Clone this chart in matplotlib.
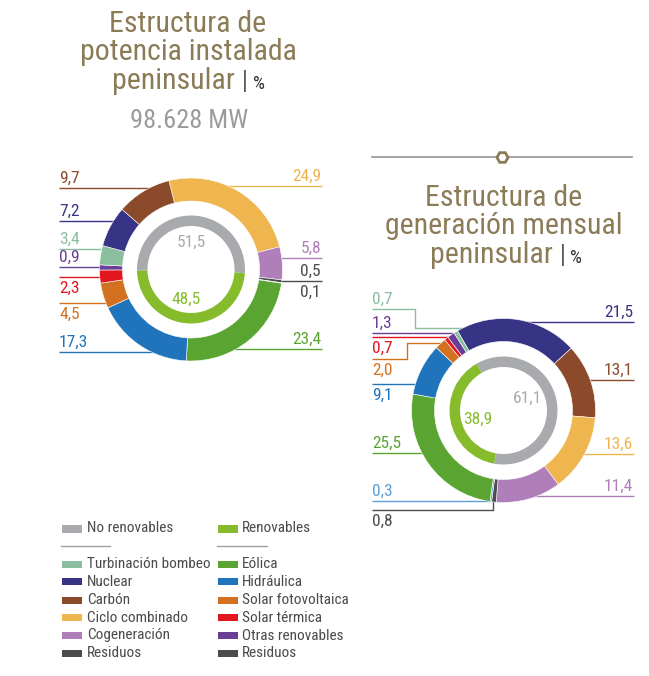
import matplotlib
matplotlib.use('Agg')
import matplotlib.pyplot as plt
from matplotlib import font_manager as fm
from matplotlib.patches import Rectangle
import numpy as np

# ---------------- DATA ----------------
potencia_labels = ['Ciclo combinado', 'Cogeneración', 'Residuos', 'Residuos renovables',
                   'Eólica', 'Hidráulica', 'Solar fotovoltaica', 'Solar térmica',
                   'Otras renovables', 'Turbinación bombeo', 'Nuclear', 'Carbón']
potencia_values = [24.9, 5.8, 0.5, 0.1, 23.4, 17.3, 4.5, 2.3, 0.9, 3.4, 7.2, 9.7]
potencia_split = [51.5, 48.5]          # No renovables, Renovables

generacion_labels = ['Nuclear', 'Carbón', 'Ciclo combinado', 'Cogeneración', 'Residuos',
                     'Residuos renovables', 'Eólica', 'Hidráulica', 'Solar fotovoltaica',
                     'Solar térmica', 'Otras renovables', 'Turbinación bombeo']
generacion_values = [21.5, 13.1, 13.6, 11.4, 0.8, 0.3, 25.5, 9.1, 2.0, 0.7, 1.3, 0.7]
generacion_split = [61.1, 38.9]        # No renovables, Renovables

legend_header = ['No renovables', 'Renovables']
legend_left = ['Turbinación bombeo', 'Nuclear', 'Carbón', 'Ciclo combinado', 'Cogeneración', 'Residuos']
legend_right = ['Eólica', 'Hidráulica', 'Solar fotovoltaica', 'Solar térmica', 'Otras renovables', 'Residuos']

title1 = ['Estructura de', 'potencia instalada', 'peninsular']
title2 = ['Estructura de', 'generación mensual', 'peninsular']
subtitle1 = '98.628 MW'

# ---------------- STYLE ----------------
COL = {
    'Ciclo combinado': '#EFB54F', 'Cogeneración': '#B07FBA', 'Residuos': '#4B4C4E',
    'Residuos renovables': '#4B4C4E', 'Eólica': '#5AA532', 'Hidráulica': '#1F74BC',
    'Solar fotovoltaica': '#D2711F', 'Solar térmica': '#E1161E', 'Otras renovables': '#6A3E97',
    'Turbinación bombeo': '#8BBE9F', 'Nuclear': '#373385', 'Carbón': '#8B4A2A',
}
C_NOREN = '#A9AAAD'
C_REN = '#86BC2B'
GOLD = '#8B7B57'

names = {f.name for f in fm.fontManager.ttflist}
def pick(cands):
    for c in cands:
        if c in names:
            return c
    return None
COND = pick(['Roboto Condensed', 'Liberation Sans Narrow', 'Open Sans Condensed'])
STRETCH = 'normal'
if COND is None:
    COND = 'DejaVu Sans'
    STRETCH = 'condensed'

def ftxt(**kw):
    d = dict(family=COND, fontstretch=STRETCH)
    d.update(kw)
    return d

W, H = 649, 676
fig = plt.figure(figsize=(W / 100, H / 100), dpi=100)
ax = fig.add_axes([0, 0, 1, 1])
ax.set_xlim(0, W)
ax.set_ylim(0, H)

def Y(y):
    return H - y

def ring_x(cx, cy, r, y, side):
    dy = y - cy
    d = np.sqrt(max(r * r - dy * dy, 0.0))
    return cx - d if side == 'L' else cx + d

def ring_y(cx, cy, r, x):
    dx = x - cx
    return cy + np.sqrt(max(r * r - dx * dx, 0.0))

def fmt(v):
    return f"{v:.1f}".replace('.', ',')

NS = 12.5

def donut(values, labels, colors, split, cx, cy, R, start, split_start, specs, xl, xr):
    wedges, _ = ax.pie(values, colors=colors, radius=R, center=(cx, Y(cy)),
                       startangle=start, counterclock=False,
                       wedgeprops=dict(width=23, edgecolor='white', linewidth=0.4), frame=True)
    for w in wedges:
        w.set_zorder(3)
    inner, _ = ax.pie(split, colors=[C_NOREN, C_REN], radius=54, center=(cx, Y(cy)),
                      startangle=split_start, counterclock=True,
                      wedgeprops=dict(width=10.5, edgecolor='none'), frame=True)
    for w in inner:
        w.set_zorder(3)
    rmid = R - 11
    for v, lab, col, spec in zip(values, labels, colors, specs):
        side, ly, pos, path, kind = spec
        if kind != 'none':
            if path is None:
                x0 = xl if side == 'L' else xr + 1
                x1 = ring_x(cx, cy, rmid, ly, side)
                xs, ys = [x0, x1], [ly, ly]
            else:
                xs = [p[0] for p in path]
                ys = [p[1] for p in path]
                if kind == 'h':
                    xs.append(ring_x(cx, cy, rmid, ys[-1], side))
                    ys.append(ys[-1])
                else:
                    ys.append(ring_y(cx, cy, rmid, xs[-1]))
                    xs.append(xs[-1])
            ax.plot(xs, [Y(y) for y in ys], color=col, lw=1.0, zorder=1,
                    solid_capstyle='butt')
        ty = ly - 5 if pos == 'above' else ly + 16
        tx = xl if side == 'L' else xr
        ax.text(tx, Y(ty), fmt(v), color=col, ha='left' if side == 'L' else 'right',
                va='baseline', **ftxt(size=NS))

# ---------- left donut ----------
left_colors = [COL[l] for l in potencia_labels]
left_specs = [
    ('R', 185.7, 'above', None, 'line'),
    ('R', 257.5, 'above', None, 'line'),
    ('R', 280.5, 'above', None, 'line'),
    ('R', 280.5, 'below', None, 'none'),
    ('R', 349.0, 'above', None, 'line'),
    ('L', 352.0, 'above', None, 'line'),
    ('L', 303.3, 'below', None, 'line'),
    ('L', 276.7, 'below', None, 'line'),
    ('L', 267.3, 'above', None, 'line'),
    ('L', 248.5, 'above', None, 'line'),
    ('L', 221.0, 'above', None, 'line'),
    ('L', 187.7, 'above', None, 'line'),
]
donut(potencia_values, potencia_labels, left_colors, potencia_split,
      191, 269.5, 91.5, 104, -4, left_specs, 59, 321)
ax.text(191, Y(246.5), fmt(potencia_split[0]), color=C_NOREN, ha='center', va='baseline', **ftxt(size=NS))
ax.text(186, Y(304), fmt(potencia_split[1]), color=C_REN, ha='center', va='baseline', **ftxt(size=NS))

# ---------- right donut ----------
right_colors = [COL[l] for l in generacion_labels]
right_colors[generacion_labels.index('Residuos renovables')] = '#5C9ED6'
right_specs = [
    ('R', 321.7, 'above', None, 'line'),
    ('R', 380.0, 'above', None, 'line'),
    ('R', 454.0, 'above', None, 'line'),
    ('R', 496.0, 'above', None, 'line'),
    ('L', 510.0, 'below', [(372, 510), (492.7, 510)], 'v'),
    ('L', 500.7, 'above', None, 'line'),
    ('L', 453.3, 'above', None, 'line'),
    ('L', 384.0, 'below', None, 'line'),
    ('L', 359.0, 'below', [(372, 359), (407.3, 359), (407.3, 343.3)], 'h'),
    ('L', 337.3, 'below', None, 'line'),
    ('L', 333.3, 'above', None, 'line'),
    ('L', 309.3, 'above', [(372, 309.3), (415, 309.3), (415, 328.3)], 'h'),
]
donut(generacion_values, generacion_labels, right_colors, generacion_split,
      503.5, 410.5, 92, 120, -100, right_specs, 372, 633)
ax.text(528, Y(403), fmt(generacion_split[0]), color=C_NOREN, ha='center', va='baseline', **ftxt(size=NS))
ax.text(477.5, Y(423.5), fmt(generacion_split[1]), color=C_REN, ha='center', va='baseline', **ftxt(size=NS))

# ---------- titles ----------
TS = 21.5
STEP = 28.6
renderer = fig.canvas.get_renderer()

def measure(s, **kw):
    t = ax.text(0, 0, s, **kw)
    bb = t.get_window_extent(renderer)
    t.remove()
    return bb

lp1 = measure('lp', linespacing=1.0, **ftxt(size=TS)).height
lp2 = measure('lp\nlp', linespacing=1.0, **ftxt(size=TS)).height
LSP = STEP / max(lp2 - lp1, 1.0)

def title(lines, cx, base3, pen_center):
    # first two lines as one block, baseline of its last line one step above line 3
    ax.text(cx, Y(base3 - STEP), lines[0] + '\n' + lines[1], color=GOLD, ha='center',
            va='baseline', multialignment='center', linespacing=LSP, **ftxt(size=TS))
    w_pen = measure(lines[2], **ftxt(size=TS)).width
    pen_left = pen_center - w_pen / 2.0
    ax.text(pen_left, Y(base3), lines[2], color=GOLD, ha='left', va='baseline', **ftxt(size=TS))
    t2 = ax.text(0, Y(base3), '|', color='#222222', ha='left', va='baseline',
                 **ftxt(size=19, weight='light'))
    w2 = t2.get_window_extent(renderer).width
    t2.set_x(pen_left + w_pen + 7)
    ax.text(pen_left + w_pen + 7 + w2 + 5, Y(base3), '%', color='#333333', ha='left',
            va='baseline', **ftxt(size=13.5))

title(title1, 188, 89.0, 173.5)
ax.text(189.4, Y(128.3), subtitle1, color='#9B9B9B', ha='center', va='baseline', **ftxt(size=19))
title(title2, 503.6, 262.7, 491)

# separator with hexagon
ax.plot([371.7, 631.7], [Y(157.3), Y(157.3)], color='#9E9E9E', lw=1.3, zorder=1)
ax.plot([501.7], [Y(157.3)], marker='H', markersize=8, mfc='white', mec=GOLD, mew=2, zorder=4)

# ---------- legend ----------
LS = 11
TXTC = '#4A4A4A'
ax.add_patch(Rectangle((61.7, Y(532.5)), 20, 8, color=C_NOREN, lw=0))
ax.text(86.7, Y(528.5), legend_header[0], color=TXTC, ha='left', va='center', **ftxt(size=LS))
ax.add_patch(Rectangle((217.5, Y(532.5)), 20, 8, color=C_REN, lw=0))
ax.text(241.7, Y(528.5), legend_header[1], color=TXTC, ha='left', va='center', **ftxt(size=LS))
ax.plot([61, 110], [Y(546), Y(546)], color='#A0A0A0', lw=1)
ax.plot([217, 266.7], [Y(546), Y(546)], color='#A0A0A0', lw=1)

row_y = [564, 581.7, 600, 617.5, 635.5, 653.3]
left_leg_cols = [COL['Turbinación bombeo'], COL['Nuclear'], COL['Carbón'], COL['Ciclo combinado'],
                 COL['Cogeneración'], COL['Residuos']]
right_leg_cols = [COL['Eólica'], COL['Hidráulica'], COL['Solar fotovoltaica'], COL['Solar térmica'],
                  COL['Otras renovables'], COL['Residuos']]
for ry, lab, c in zip(row_y, legend_left, left_leg_cols):
    ax.add_patch(Rectangle((62.3, Y(ry + 3.5)), 20, 7, color=c, lw=0))
    ax.text(86.7, Y(ry), lab, color=TXTC, ha='left', va='center', **ftxt(size=LS))
for ry, lab, c in zip(row_y, legend_right, right_leg_cols):
    ax.add_patch(Rectangle((218.3, Y(ry + 3.5)), 20, 7, color=c, lw=0))
    ax.text(241.7, Y(ry), lab, color=TXTC, ha='left', va='center', **ftxt(size=LS))

ax.set_xlim(0, W)
ax.set_ylim(0, H)
ax.set_aspect('auto')
ax.axis('off')
fig.savefig('out.png', dpi=100, facecolor='white')
